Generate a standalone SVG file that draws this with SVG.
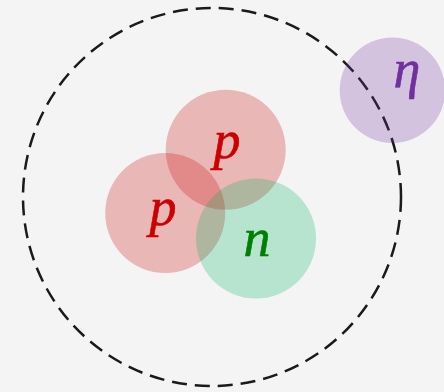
<svg xmlns="http://www.w3.org/2000/svg" width="444" height="392" viewBox="0 0 444 392">
<style>
.lbl{font-family:"Liberation Serif","DejaVu Serif",serif;font-style:italic;font-size:54px;text-anchor:middle}
.prot{fill:#cc0000;fill-opacity:0.25}
.neut{fill:#00b45a;fill-opacity:0.25}
.eta{fill:#7030a0;fill-opacity:0.25}
</style>
<rect width="444" height="392" fill="#f4f4f4"/>
<g id="connectors">
<circle cx="212" cy="197" r="189" fill="none" stroke="#1a1a1a" stroke-width="2.5" stroke-dasharray="15 8"/>
</g>
<g id="proton1">
<circle class="prot" cx="225.7" cy="149.7" r="60"/>
<text class="lbl" x="227" y="158" fill="#cc0000" stroke="#cc0000" stroke-width="0.6">p</text>
</g>
<g id="proton2">
<circle class="prot" cx="165.2" cy="213" r="60"/>
<text class="lbl" x="163" y="225" fill="#cc0000" stroke="#cc0000" stroke-width="0.6">p</text>
</g>
<g id="neutron">
<circle class="neut" cx="256" cy="238.5" r="60"/>
<text class="lbl" x="257" y="256" fill="#008000" stroke="#008000" stroke-width="0.6">n</text>
</g>
<g id="eta">
<circle class="eta" cx="392.4" cy="90.3" r="52.7"/>
<text class="lbl" x="407" y="87" fill="#7030a0" stroke="#7030a0" stroke-width="0.6">η</text>
</g>
</svg>
